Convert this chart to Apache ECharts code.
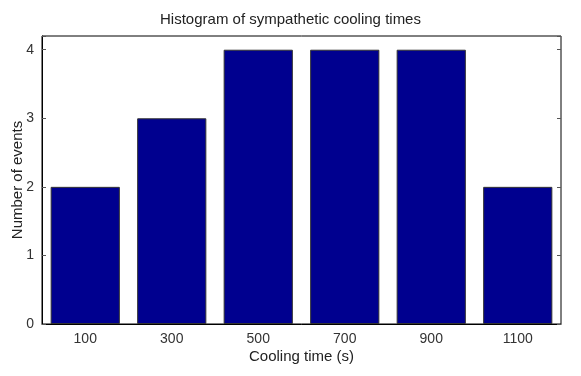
<!DOCTYPE html>
<html style="height: 100%">
<head>
<meta charset="utf-8">
<script src="https://cdn.jsdelivr.net/npm/echarts@6/dist/echarts.min.js"></script>
</head>
<body style="height: 100%; margin: 0; background: #fff">
<div id="container" style="width: 581px; height: 376px"></div>
<script type="text/javascript">
var coolingTimes = ['100', '300', '500', '700', '900', '1100'];
var eventCounts = [2, 3, 4, 4, 4, 2];
var yTicks = [0, 1, 2, 3, 4];

var myChart = echarts.init(document.getElementById('container'));
var font = 'Liberation Sans, Arial, sans-serif';
var option = {
    animation: false,
    title: {
        text: 'Histogram of sympathetic cooling times',
        left: 'center',
        top: 7,
        textStyle: { fontFamily: font, fontSize: 15, fontWeight: 'normal', color: '#222' }
    },
    grid: {
        left: 42, right: 20, top: 36, bottom: 52,
        outerBoundsMode: 'none', containLabel: false,
        show: true, borderColor: '#000', borderWidth: 1
    },
    xAxis: [{
        type: 'category',
        data: coolingTimes,
        name: 'Cooling time (s)',
        nameLocation: 'middle',
        nameGap: 25,
        nameMoveOverlap: false,
        nameTextStyle: { fontFamily: font, fontSize: 15, color: '#222' },
        axisLine: { lineStyle: { color: '#000' } },
        axisTick: { inside: true, alignWithLabel: true, length: 4, lineStyle: { color: '#555' } },
        axisLabel: { fontFamily: font, fontSize: 14, color: '#333', margin: 8 }
    }, {
        type: 'category',
        data: coolingTimes,
        position: 'top',
        axisLine: { show: false },
        axisTick: { inside: true, alignWithLabel: true, length: 4, lineStyle: { color: '#555' } },
        axisLabel: { show: false }
    }],
    yAxis: [{
        type: 'value',
        min: 0,
        max: 4.2,
        interval: 1,
        name: 'Number of events',
        nameLocation: 'middle',
        nameGap: 17,
        nameMoveOverlap: false,
        nameTextStyle: { fontFamily: font, fontSize: 15, color: '#222' },
        splitLine: { show: false },
        axisLine: { show: true, lineStyle: { color: '#000' } },
        axisTick: { show: true, inside: true, length: 4, lineStyle: { color: '#555' } },
        axisLabel: {
            fontFamily: font, fontSize: 14, color: '#333', margin: 8,
            formatter: function (v) { return yTicks.indexOf(v) >= 0 ? String(v) : ''; }
        }
    }, {
        type: 'value',
        min: 0,
        max: 4.2,
        interval: 1,
        position: 'right',
        splitLine: { show: false },
        axisLine: { show: false },
        axisTick: { show: true, inside: true, length: 4, lineStyle: { color: '#555' } },
        axisLabel: { show: false }
    }],
    series: [{
        type: 'bar',
        data: eventCounts,
        barWidth: '80%',
        itemStyle: { color: '#00008F', borderColor: '#333', borderWidth: 1 }
    }]
};
myChart.setOption(option);
</script>
</body>
</html>
